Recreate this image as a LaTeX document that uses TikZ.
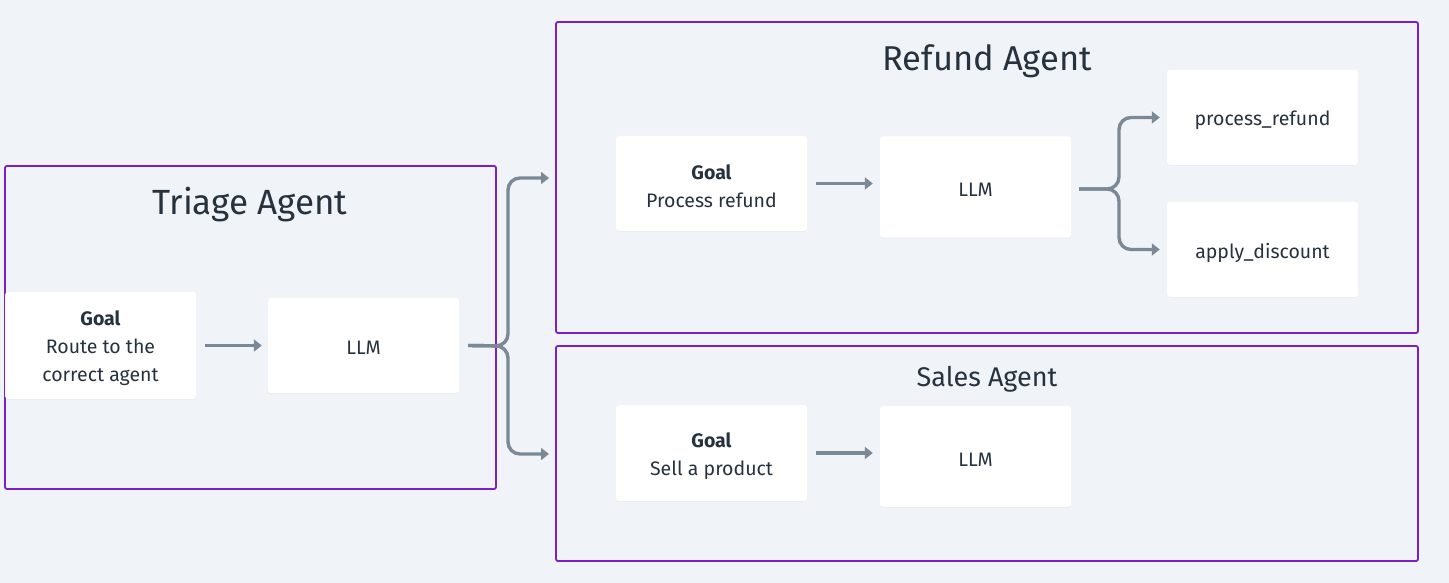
\documentclass[tikz,border=0pt]{standalone}
\usepackage{fontspec}
\setmainfont{Fira Sans}
\usetikzlibrary{arrows.meta,shadows}
\definecolor{bgc}{HTML}{F0F3F7}
\definecolor{purp}{HTML}{7A1FC9}
\definecolor{conc}{HTML}{7B8896}
\definecolor{txt}{HTML}{27323F}
\begin{document}
\begin{tikzpicture}[x=1pt,y=-1pt,
  container/.style={draw=purp,line width=1.8pt,rounded corners=2pt},
  card/.style={fill=white,rounded corners=3pt,minimum width=191pt,inner sep=0pt,
    drop shadow={opacity=0.06,shadow xshift=0pt,shadow yshift=-1pt}},
  cardtext/.style={text=txt,font=\fontsize{19.5}{28}\selectfont,align=center,inner sep=0pt},
  title/.style={text=txt,inner sep=0pt},
  conn/.style={draw=conc,line width=3.4pt,-{Triangle[length=8pt,width=12pt]}},
  ]
\fill[bgc] (0,0) rectangle (1449,583);
\useasboundingbox (0,0) rectangle (1449,583);
% containers
\draw[container] (5,166) rectangle (496,489);
\draw[container] (556,22) rectangle (1418,333);
\draw[container] (556,346) rectangle (1418,561);
% titles
\node[title,font=\fontsize{35}{40}\selectfont] (ttitle) at (250,205) {Triage Agent};
\node[title,font=\fontsize{34.5}{40}\selectfont] (rtitle) at (987,61) {Refund Agent};
\node[title,font=\fontsize{27}{32}\selectfont] (stitle) at (987,379) {Sales Agent};
% cards
\node[card,minimum height=107pt] (tgoal) at (100.5,345.5) {};
\node[card,minimum height=95pt] (tllm) at (363.5,345.5) {};
\node[card,minimum height=95pt] (rgoal) at (711.5,183.5) {};
\node[card,minimum height=101pt] (rllm) at (975.5,187) {};
\node[card,minimum height=95pt] (pr) at (1262.5,117.5) {};
\node[card,minimum height=95pt] (ad) at (1262.5,249.5) {};
\node[card,minimum height=96pt] (sgoal) at (711.5,453) {};
\node[card,minimum height=101pt] (sllm) at (975.5,456.5) {};
% card texts
\node[cardtext] (tgoalt) at ([yshift=-3pt]tgoal.center) {\textbf{Goal}\\Route to the\\correct agent};
\node[cardtext] (tllmt) at ([yshift=-2pt]tllm.center) {LLM};
\node[cardtext] (rgoalt) at ([yshift=-3pt]rgoal.center) {\textbf{Goal}\\Process refund};
\node[cardtext] (rllmt) at ([yshift=-3pt]rllm.center) {LLM};
\node[cardtext] (prt) at ([yshift=-3pt]pr.center) {process\_refund};
\node[cardtext] (adt) at ([yshift=-3pt]ad.center) {apply\_discount};
\node[cardtext] (sgoalt) at ([yshift=-3pt]sgoal.center) {\textbf{Goal}\\Sell a product};
\node[cardtext] (sllmt) at ([yshift=-3pt]sllm.center) {LLM};
% connectors
\draw[conn,shorten <=9pt,shorten >=6pt] (tgoal.east |- tllm.east) -- (tllm.west);
\draw[conn,shorten <=9pt,shorten >=7pt] (rgoal.east) -- (rgoal.east -| rllm.west);
\draw[conn,shorten <=9pt,shorten >=7pt] (sgoal.east) -- (sgoal.east -| sllm.west);
\coordinate (rin) at (549,178);
\coordinate (sin) at (549,454);
\coordinate (tj) at (508,346);
\draw[conn,rounded corners=12pt] ([xshift=9pt]tllm.east) -- (tj) |- (rin);
\draw[conn,rounded corners=12pt] ([xshift=9pt]tllm.east) -- (tj) |- (sin);
\coordinate (rj) at (1119,189);
\draw[conn,rounded corners=12pt] ([xshift=8pt,yshift=-2pt]rllm.east) -- (rj) |- ([xshift=-7pt]pr.west);
\draw[conn,rounded corners=12pt] ([xshift=8pt,yshift=-2pt]rllm.east) -- (rj) |- ([xshift=-7pt]ad.west);
\end{tikzpicture}
\end{document}
